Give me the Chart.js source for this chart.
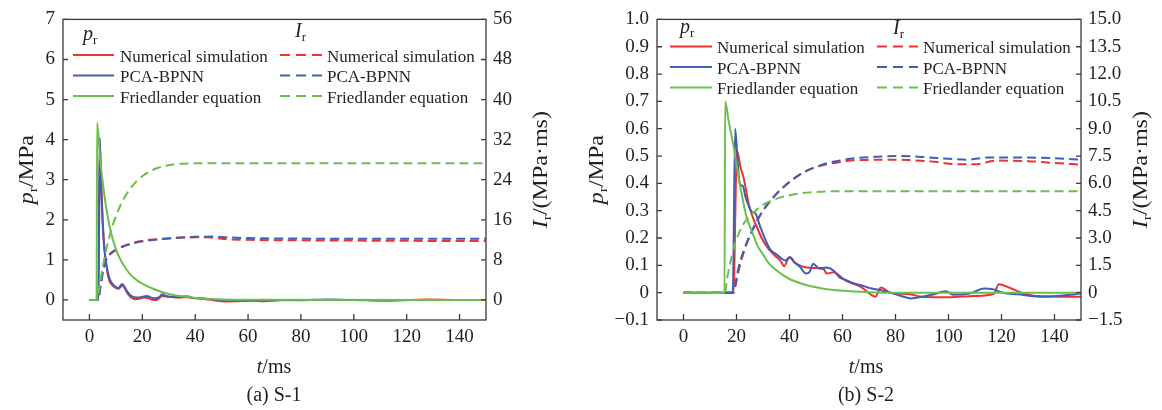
<!DOCTYPE html>
<html>
<head>
<meta charset="utf-8">
<script src="https://cdn.jsdelivr.net/npm/chart.js@4.4.0/dist/chart.umd.min.js"></script>
<style>
    html, body { margin: 0; padding: 0; background: #fff; }
    #wrap { position: relative; width: 1162px; height: 410px; }
    .box { position: absolute; top: 0; height: 410px; }
</style>
</head>
<body>
<div id="wrap">
    <div class="box" style="left:0; width:570px;"><canvas id="chartS1"></canvas></div>
    <div class="box" style="left:575px; width:587px;"><canvas id="chartS2"></canvas></div>
</div>
<script>
// ---- data ----
// shared x ticks (ms)
const xTicks = [0, 20, 40, 60, 80, 100, 120, 140];

// (a) S-1 : left axis p_r (MPa), right axis I_r (MPa·ms)
const s1PTicks = [0, 1, 2, 3, 4, 5, 6, 7];
const s1ITicks = [0, 8, 16, 24, 32, 40, 48, 56];

const s1SimPT = [0, 3.4, 3.9, 4.4, 5.0, 5.6, 6.5, 7.5, 8.5, 10, 11, 12.5, 13.3, 14.5, 16, 17.5, 19, 20.5, 22, 24, 25.5, 26.5, 27.5, 30, 34, 37, 40, 44, 48, 52, 56, 62, 66, 72, 80, 100, 110, 128, 140, 150];
const s1SimP  = [0, 0, 3.95, 3.0, 2.0, 1.35, 0.8, 0.48, 0.38, 0.3, 0.28, 0.36, 0.3, 0.15, 0.05, 0.02, 0.03, 0.06, 0.05, 0.0, 0.0, 0.05, 0.1, 0.08, 0.06, 0.07, 0.05, 0.02, -0.02, -0.04, -0.03, -0.02, -0.03, -0.01, 0, 0, -0.02, 0.01, 0, 0];
const s1NetPT = [0, 3.4, 3.9, 4.4, 5.0, 5.6, 6.5, 7.5, 8.5, 10, 11, 12.3, 13, 14.2, 15.5, 17, 18.5, 20, 21.8, 23, 24.3, 25.5, 26.5, 27.4, 29, 31, 34, 37, 39, 42, 46, 50, 55, 60, 70, 80, 90, 100, 120, 150];
const s1NetP  = [0, 0, 4.05, 2.9, 1.9, 1.3, 0.85, 0.55, 0.42, 0.32, 0.3, 0.4, 0.36, 0.22, 0.12, 0.07, 0.06, 0.08, 0.1, 0.07, 0.04, 0.05, 0.07, 0.14, 0.1, 0.08, 0.07, 0.09, 0.05, 0.04, 0.02, 0, -0.01, -0.01, 0, -0.005, 0.01, 0, 0, 0];
const s1FriPT = [0, 2.7, 2.9, 4, 5, 6, 7, 8, 10, 12, 14, 16, 18, 20, 23, 26, 30, 35, 40, 45, 55, 150];
const s1FriP  = [0, 0, 4.42, 3.55, 2.95, 2.45, 2.05, 1.72, 1.27, 0.97, 0.76, 0.6, 0.49, 0.41, 0.31, 0.23, 0.15, 0.09, 0.05, 0.025, 0.005, 0];

const s1SimIT = [0, 3.4, 4, 4.8, 5.7, 6.7, 8, 9.2, 11, 13, 16, 19, 23, 28, 34, 40, 45, 50, 60, 80, 100, 120, 150];
const s1SimI  = [0, 0, 2.3, 5.0, 7.2, 8.5, 9.3, 9.8, 10.3, 10.8, 11.3, 11.7, 12.0, 12.2, 12.4, 12.5, 12.5, 12.2, 12.0, 11.9, 11.85, 11.8, 11.75];
const s1NetIT = [0, 3.4, 4, 4.8, 5.7, 6.7, 8, 9.2, 11, 13, 16, 19, 23, 28, 34, 40, 47, 52, 60, 80, 100, 120, 150];
const s1NetI  = [0, 0, 2.0, 4.6, 6.9, 8.4, 9.2, 9.7, 10.2, 10.7, 11.2, 11.6, 11.9, 12.2, 12.45, 12.6, 12.65, 12.5, 12.35, 12.25, 12.2, 12.2, 12.2];
const s1FriIT = [0, 2.9, 4, 5, 6, 7, 8, 9, 10, 12, 14, 16, 18, 20, 23, 26, 30, 35, 45, 150];
const s1FriI  = [0, 0, 3.5, 6.5, 9.2, 11.5, 13.5, 15.2, 16.7, 19.2, 21.1, 22.6, 23.8, 24.7, 25.7, 26.4, 26.9, 27.2, 27.3, 27.3];

// (b) S-2
const s2PTicks = [-0.1, 0, 0.1, 0.2, 0.3, 0.4, 0.5, 0.6, 0.7, 0.8, 0.9, 1.0];
const s2ITicks = [-1.5, 0, 1.5, 3.0, 4.5, 6.0, 7.5, 9.0, 10.5, 12.0, 13.5, 15.0];

const s2SimPT = [0, 18.8, 20.2, 21.5, 22.7, 24.6, 26, 27.7, 29.5, 31.5, 34, 36.5, 38, 39.9, 42, 45, 50, 53, 54, 56.7, 61, 66.8, 71, 72.4, 74.5, 78, 85, 90, 100, 110, 117, 119, 123, 127.6, 133, 150];
const s2SimP  = [0, 0, 0.52, 0.46, 0.42, 0.325, 0.28, 0.24, 0.2, 0.167, 0.14, 0.118, 0.097, 0.13, 0.11, 0.095, 0.09, 0.085, 0.07, 0.075, 0.045, 0.022, -0.009, -0.015, 0.019, 0, -0.005, -0.015, -0.017, -0.012, -0.005, 0.031, 0.018, 0, -0.012, -0.015];
const s2NetPT = [0, 18.6, 19.5, 20.3, 21.2, 22.4, 23.4, 24.5, 25.9, 27.1, 29, 31.5, 33, 35.2, 37, 38.4, 40.3, 42, 44, 46.2, 47.5, 49, 51, 52.5, 54, 56.7, 59, 61, 64, 67, 71, 75, 78, 82, 86, 90, 94, 99, 102, 108, 113.5, 117, 120.5, 126, 136, 143, 150];
const s2NetP  = [0, 0, 0.60, 0.50, 0.40, 0.39, 0.35, 0.32, 0.295, 0.29, 0.24, 0.18, 0.155, 0.14, 0.125, 0.118, 0.13, 0.11, 0.094, 0.07, 0.075, 0.106, 0.09, 0.09, 0.092, 0.08, 0.055, 0.048, 0.035, 0.027, 0.015, 0.008, 0, -0.012, -0.021, -0.015, -0.007, 0.005, -0.008, -0.003, 0.015, 0.012, 0, -0.006, -0.015, -0.01, -0.003];
const s2FriPT = [0, 15.5, 15.7, 17, 18, 19, 20, 21, 22, 23, 24, 26, 28, 30, 32, 34, 37, 40, 45, 50, 55, 60, 70, 80, 150];
const s2FriP  = [0, 0, 0.70, 0.63, 0.58, 0.53, 0.47, 0.41, 0.36, 0.31, 0.27, 0.22, 0.17, 0.14, 0.11, 0.09, 0.068, 0.05, 0.032, 0.02, 0.012, 0.007, 0.002, 0, 0];

const s2SimIT = [0, 19, 19.8, 20.5, 21.5, 22.7, 24, 25.2, 27.7, 30, 34, 37, 40.2, 43, 46.6, 50, 52.8, 56, 59, 63, 68, 75, 85, 95, 103, 110, 118, 130, 140, 150];
const s2SimI  = [0, 0, 0.5, 1.0, 1.6, 2.2, 2.75, 3.15, 3.9, 4.5, 5.25, 5.7, 6.1, 6.4, 6.7, 6.9, 7.0, 7.1, 7.17, 7.25, 7.28, 7.3, 7.28, 7.18, 7.05, 7.05, 7.25, 7.22, 7.12, 7.03];
const s2NetIT = [0, 18.8, 19.5, 20.2, 21, 22, 22.7, 24, 25.2, 27.7, 30, 34, 37, 40.2, 43, 46.6, 50, 52.8, 56, 59, 63, 68, 75, 82, 90, 100, 107, 115, 125, 140, 150];
const s2NetI  = [0, 0, 0.4, 1.0, 1.5, 2.0, 2.3, 2.8, 3.2, 3.95, 4.5, 5.25, 5.7, 6.1, 6.4, 6.7, 6.9, 7.05, 7.17, 7.25, 7.35, 7.42, 7.48, 7.5, 7.45, 7.35, 7.3, 7.42, 7.42, 7.38, 7.3];
const s2FriIT = [0, 15.6, 16.5, 17.5, 19, 21, 23, 25, 28, 31, 35, 40, 45, 50, 58, 150];
const s2FriI  = [0, 0, 0.8, 1.55, 2.5, 3.3, 3.85, 4.2, 4.6, 4.9, 5.15, 5.35, 5.47, 5.53, 5.57, 5.57];

const seriesNames = ['Numerical simulation', 'PCA-BPNN', 'Friedlander equation'];

// ---- styling ----
const FONT = '"Liberation Serif", "Times New Roman", serif';
const INK = '#231f20';
const RED = '#ee3131';
const BLUE = '#3d5fb4';
const GREEN = '#6cbf4b';
const DASH = [9, 5];
const TITLE_STRETCH = 1.2;

function pts(ts, vs) {
    return ts.map((t, i) => ({ x: t, y: vs[i] }));
}

function lineSet(ts, vs, color, axis, dashed) {
    return {
        data: pts(ts, vs),
        borderColor: color,
        borderWidth: 2,
        borderDash: dashed ? DASH : [],
        yAxisID: axis,
        pointRadius: 0,
        cubicInterpolationMode: 'monotone',
        fill: false
    };
}

// text with italic symbol + subscript, optionally rotated (and stretched along the text)
function drawRich(ctx, x, y, parts, rotate, align) {
    ctx.save();
    ctx.translate(x, y);
    if (rotate) {
        ctx.rotate(-Math.PI / 2);
        ctx.scale(TITLE_STRETCH, 1);
    }
    ctx.textBaseline = 'alphabetic';
    ctx.textAlign = 'left';
    ctx.fillStyle = INK;
    let w = 0;
    parts.forEach(p => { ctx.font = p.font; w += ctx.measureText(p.text).width; });
    let cx = align === 'left' ? 0 : -w / 2;
    parts.forEach(p => {
        ctx.font = p.font;
        ctx.fillText(p.text, cx, p.dy || 0);
        cx += ctx.measureText(p.text).width;
    });
    ctx.restore();
}

const it = s => `italic ${s}px ${FONT}`;
const rm = s => `${s}px ${FONT}`;
const pTitle = [{ text: 'p', font: it(20) }, { text: 'r', font: rm(13), dy: 4 }, { text: '/MPa', font: rm(20) }];
const iTitle = [{ text: 'I', font: it(20) }, { text: 'r', font: rm(13), dy: 4 }, { text: '/(MPa\u00b7ms)', font: rm(20) }];
const tTitle = [{ text: 't', font: it(20) }, { text: '/ms', font: rm(20) }];
const pKey = [{ text: 'p', font: it(20) }, { text: 'r', font: rm(13), dy: 3.5 }];
const iKey = [{ text: 'I', font: it(20) }, { text: 'r', font: rm(13), dy: 3.5 }];

function fmtDec(v) {
    if (v === 0) return '0';
    return (v < 0 ? '\u2212' : '') + Math.abs(v).toFixed(1);
}

function buildChart(canvasId, c) {
    const ox = c.offset;
    const tickFont = { family: FONT, size: 19 };

    const decor = {
        id: 'decor',
        afterDraw(chart) {
            const ctx = chart.ctx;
            const a = chart.chartArea;
            const sx = chart.scales.x, sy = chart.scales.y, sy1 = chart.scales.y1;

            // frame + inward ticks
            ctx.save();
            ctx.strokeStyle = '#3a3a3a';
            ctx.lineWidth = 1.3;
            ctx.strokeRect(a.left, a.top, a.right - a.left, a.bottom - a.top);
            ctx.beginPath();
            xTicks.forEach(v => {
                const px = sx.getPixelForValue(v);
                ctx.moveTo(px, a.bottom); ctx.lineTo(px, a.bottom - 6);
            });
            c.pTicks.forEach(v => {
                const py = sy.getPixelForValue(v);
                ctx.moveTo(a.left, py); ctx.lineTo(a.left + 5, py);
            });
            c.iTicks.forEach(v => {
                const py = sy1.getPixelForValue(v);
                ctx.moveTo(a.right, py); ctx.lineTo(a.right - 5, py);
            });
            ctx.stroke();
            ctx.restore();

            // axis titles and caption
            const midY = (a.top + a.bottom) / 2;
            drawRich(ctx, c.pTitleX - ox, midY, pTitle, true);
            drawRich(ctx, c.iTitleX - ox, midY, iTitle, true);
            drawRich(ctx, c.centerX - ox, 373, tTitle, false);
            drawRich(ctx, c.centerX - ox, 401, [{ text: c.caption, font: rm(20) }], false);

            // two-column legend (p_r solid / I_r dashed)
            const cols = [
                { key: pKey, keyPos: c.pKeyPos, line: c.pLine, dash: [] },
                { key: iKey, keyPos: c.iKeyPos, line: c.iLine, dash: [10, 6] }
            ];
            const colors = [RED, BLUE, GREEN];
            cols.forEach(col => {
                drawRich(ctx, col.keyPos[0] - ox, col.keyPos[1], col.key, false, 'left');
                c.rowY.forEach((y, i) => {
                    ctx.save();
                    ctx.strokeStyle = colors[i];
                    ctx.lineWidth = 2;
                    ctx.setLineDash(col.dash);
                    ctx.beginPath();
                    ctx.moveTo(col.line[0] - ox, y);
                    ctx.lineTo(col.line[1] - ox, y);
                    ctx.stroke();
                    ctx.restore();
                    ctx.save();
                    ctx.font = rm(17);
                    ctx.fillStyle = INK;
                    ctx.textBaseline = 'alphabetic';
                    ctx.fillText(seriesNames[i], col.line[2] - ox, y + 6.5);
                    ctx.restore();
                });
            });
        }
    };

    // green first so it sits on top, then blue, then red
    const datasets = [
        lineSet(c.fri[0], c.fri[1], GREEN, 'y', false),
        lineSet(c.friI[0], c.friI[1], GREEN, 'y1', true),
        lineSet(c.net[0], c.net[1], BLUE, 'y', false),
        lineSet(c.netI[0], c.netI[1], BLUE, 'y1', true),
        lineSet(c.sim[0], c.sim[1], RED, 'y', false),
        lineSet(c.simI[0], c.simI[1], RED, 'y1', true)
    ];

    return new Chart(document.getElementById(canvasId), {
        type: 'line',
        data: { datasets: datasets },
        options: {
            responsive: true,
            maintainAspectRatio: false,
            animation: false,
            events: [],
            layout: { padding: { top: 17, left: 0, right: 0, bottom: 0 } },
            plugins: { legend: { display: false }, tooltip: { enabled: false } },
            scales: {
                x: {
                    type: 'linear',
                    min: -10, max: 150,
                    afterBuildTicks: s => { s.ticks = xTicks.map(v => ({ value: v })); },
                    afterFit: s => { s.height = 90; },
                    grid: { display: false, drawTicks: false },
                    border: { display: false },
                    ticks: { padding: 6, font: tickFont, color: INK, maxRotation: 0, autoSkip: false }
                },
                y: {
                    position: 'left',
                    min: c.pRange[0], max: c.pRange[1],
                    afterBuildTicks: s => { s.ticks = c.pTicks.map(v => ({ value: v })); },
                    afterFit: s => { s.width = c.leftW; },
                    grid: { display: false, drawTicks: false },
                    border: { display: false },
                    ticks: { padding: 8, font: tickFont, color: INK, autoSkip: false, callback: c.pFmt }
                },
                y1: {
                    position: 'right',
                    min: c.iRange[0], max: c.iRange[1],
                    afterBuildTicks: s => { s.ticks = c.iTicks.map(v => ({ value: v })); },
                    afterFit: s => { s.width = c.rightW; },
                    grid: { display: false, drawTicks: false },
                    border: { display: false },
                    ticks: { padding: 7, font: tickFont, color: INK, autoSkip: false, callback: c.iFmt }
                }
            }
        },
        plugins: [decor]
    });
}

buildChart('chartS1', {
    offset: 0,
    leftW: 63, rightW: 84,
    pRange: [-0.5, 7], iRange: [-4, 56],
    pTicks: s1PTicks, iTicks: s1ITicks,
    pFmt: v => String(v), iFmt: v => String(v),
    sim: [s1SimPT, s1SimP], net: [s1NetPT, s1NetP], fri: [s1FriPT, s1FriP],
    simI: [s1SimIT, s1SimI], netI: [s1NetIT, s1NetI], friI: [s1FriIT, s1FriI],
    pTitleX: 33, iTitleX: 547, centerX: 274, caption: '(a) S-1',
    pKeyPos: [83, 40], iKeyPos: [295, 37],
    pLine: [73, 114, 120], iLine: [280, 322, 327],
    rowY: [55, 75.5, 96]
});

buildChart('chartS2', {
    offset: 575,
    leftW: 82, rightW: 81,
    pRange: [-0.1, 1.0], iRange: [-1.5, 15],
    pTicks: s2PTicks, iTicks: s2ITicks,
    pFmt: fmtDec, iFmt: fmtDec,
    sim: [s2SimPT, s2SimP], net: [s2NetPT, s2NetP], fri: [s2FriPT, s2FriP],
    simI: [s2SimIT, s2SimI], netI: [s2NetIT, s2NetI], friI: [s2FriIT, s2FriI],
    pTitleX: 603, iTitleX: 1147, centerX: 866, caption: '(b) S-2',
    pKeyPos: [680, 33], iKeyPos: [893, 34],
    pLine: [670, 712, 717], iLine: [877, 918, 923],
    rowY: [46.5, 67, 87.5]
});
</script>
</body>
</html>
